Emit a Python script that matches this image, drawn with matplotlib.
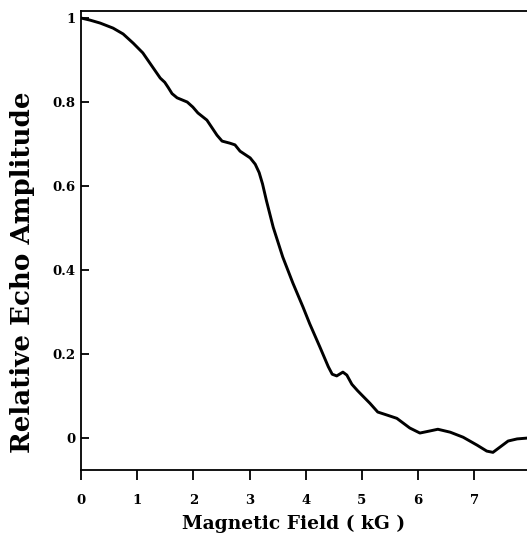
import matplotlib
matplotlib.use("Agg")
import matplotlib.pyplot as plt

# Data
field_kG = [0.0, 0.16, 0.34, 0.57, 0.75, 0.93, 1.10, 1.26, 1.41, 1.49, 1.55, 1.62, 1.71,
            1.89, 1.99, 2.08, 2.24, 2.42, 2.51, 2.65, 2.74, 2.83, 3.01, 3.10, 3.17, 3.23,
            3.30, 3.42, 3.59, 3.77, 3.95, 4.07, 4.25, 4.40, 4.47, 4.55, 4.66, 4.73, 4.82,
            4.92, 5.00, 5.14, 5.28, 5.44, 5.62, 5.85, 6.03, 6.21, 6.35, 6.57, 6.80, 7.05,
            7.22, 7.33, 7.46, 7.60, 7.76, 7.94, 8.0]
amplitude = [1.0, 0.995, 0.988, 0.976, 0.962, 0.940, 0.917, 0.886, 0.857, 0.847, 0.835,
             0.820, 0.810, 0.800, 0.788, 0.774, 0.757, 0.721, 0.707, 0.702, 0.698, 0.683,
             0.667, 0.652, 0.632, 0.605, 0.565, 0.502, 0.431, 0.369, 0.312, 0.272, 0.217,
             0.170, 0.152, 0.148, 0.157, 0.150, 0.128, 0.113, 0.102, 0.083, 0.062, 0.055,
             0.047, 0.024, 0.012, 0.017, 0.021, 0.014, 0.002, -0.017, -0.031, -0.034,
             -0.021, -0.007, -0.002, 0.0, 0.0]
x_ticks = [0, 1, 2, 3, 4, 5, 6, 7]
x_ticklabels = ["0", "1", "2", "3", "4", "5", "6", "7"]
y_ticks = [0, 0.2, 0.4, 0.6, 0.8, 1.0]
y_ticklabels = ["0", "0.2", "0.4", "0.6", "0.8", "1"]

W, H = 527, 535
fig = plt.figure(figsize=(W / 100, H / 100), dpi=100)
ax = fig.add_axes([81 / W, 1 - 470 / H, 449.6 / W, 459 / H])

ax.plot(field_kG, amplitude, color="black", lw=2.1, solid_capstyle="round",
        solid_joinstyle="round")

ax.set_xlim(0, 8)
ax.set_ylim(-0.076, 1.0167)

ax.set_xticks(x_ticks)
ax.set_xticklabels(x_ticklabels)
ax.set_yticks(y_ticks)
ax.set_yticklabels(y_ticklabels)

for lab in ax.get_xticklabels() + ax.get_yticklabels():
    lab.set_fontfamily("DejaVu Serif")
    lab.set_fontweight("bold")
    lab.set_fontsize(9.5)

ax.tick_params(axis="x", direction="out", length=7, width=1.3, pad=10, top=False)
ax.tick_params(axis="y", direction="in", length=6, width=1.3, pad=4, right=False)

for side in ["left", "bottom", "top", "right"]:
    ax.spines[side].set_linewidth(1.3)

fig.text(294 / W, 1 - 524 / H, "Magnetic Field ( kG )", ha="center", va="center",
         family="DejaVu Serif", weight="bold", size=13.4)
fig.text(23 / W, 1 - 272 / H, "Relative Echo Amplitude", ha="center", va="center",
         rotation=90, family="DejaVu Serif", weight="bold", size=18.8)

fig.savefig("out.png", dpi=100)
